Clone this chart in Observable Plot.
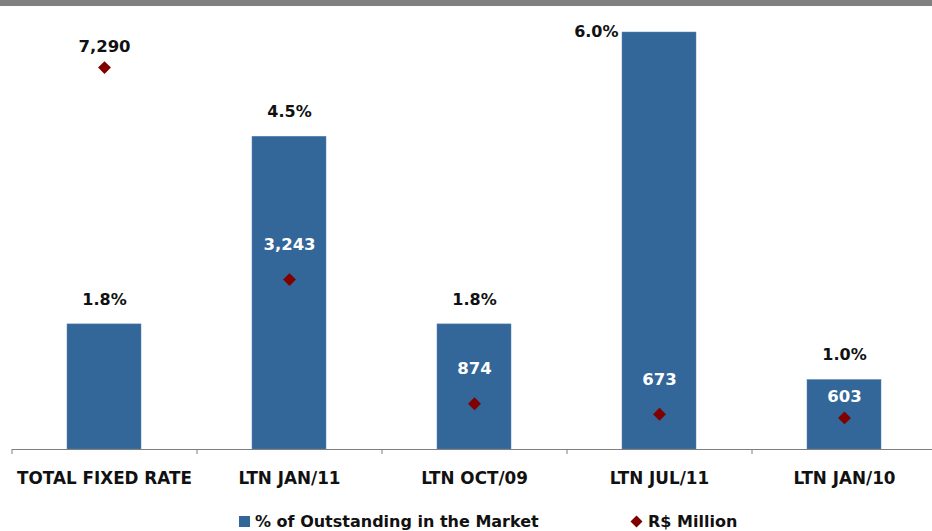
<!DOCTYPE html>
<html><head><meta charset="utf-8">
<script src="https://cdn.jsdelivr.net/npm/d3@7"></script>
<script src="https://cdn.jsdelivr.net/npm/@observablehq/plot@0.6"></script>
<style>
html,body{margin:0;padding:0;background:#fff;}
body{width:932px;height:531px;overflow:hidden;position:relative;font-family:"DejaVu Sans",sans-serif;}
#top{height:6px;background:#808080;}
#chart{width:932px;height:500px;overflow:hidden;}
#chart svg{display:block;overflow:visible;max-width:none !important;height:500px !important;}
.leg{position:absolute;top:510px;height:22px;display:flex;align-items:center;font-weight:bold;font-size:16px;color:#111;white-space:nowrap;}
.leg svg{margin-right:5px;}
</style></head>
<body>
<div id="top"></div>
<div id="chart"></div>
<div class="leg" style="left:239px"><svg width="11" height="11"><rect width="11" height="11" fill="#336699"/></svg><span>% of Outstanding in the Market</span></div>
<div class="leg" style="left:630px"><svg width="13" height="13"><path d="M6.5 0.5L12.5 6.5L6.5 12.5L0.5 6.5Z" fill="#800000"/></svg><span>R$ Million</span></div>
<script>
const categories = ["TOTAL FIXED RATE", "LTN JAN/11", "LTN OCT/09", "LTN JUL/11", "LTN JAN/10"];
const pctOutstanding = [1.8, 4.5, 1.8, 6.0, 1.0];
const rsMillion = [7290, 3243, 874, 673, 603];
const pctLabels = ["1.8%", "4.5%", "1.8%", "6.0%", "1.0%"];
const rsLabels = ["7,290", "3,243", "874", "673", "603"];
const pctAxisMax = 6.0;
const rsAxisMax = 7960;

const rows = categories.map((c, i) => ({
  cat: c,
  pct: pctOutstanding[i],
  rs: rsMillion[i],
  rsY: rsMillion[i] / rsAxisMax * pctAxisMax,
  pctLabel: pctLabels[i],
  rsLabel: rsLabels[i]
}));
const maxPct = d3.max(pctOutstanding);
const step = 185;
const font = "DejaVu Sans, sans-serif";
const nearDiamond = new Set(["TOTAL FIXED RATE", "LTN JAN/10"]);

const chart = Plot.plot({
  width: 937, height: 500,
  marginLeft: 12, marginRight: 0, marginTop: 26, marginBottom: 57,
  style: {fontFamily: font, background: "#fff", overflow: "visible"},
  x: {type: "band", domain: categories, paddingInner: 0.6, paddingOuter: 0.3, axis: null},
  y: {domain: [0, pctAxisMax], axis: null},
  marks: [
    Plot.barY(rows, {x: "cat", y: "pct", fill: "#336699", stroke: "#5b86b3", strokeWidth: 0.5}),
    Plot.ruleY([0], {stroke: "#7f7f7f", strokeWidth: 1}),
    Plot.ruleX(categories, {x: d => d, dx: -step / 2, y1: 0, y2: 0, insetBottom: -5, stroke: "#7f7f7f", strokeWidth: 1}),
    Plot.text(categories, {x: d => d, y: 0, dy: 29.5, text: d => d, fontWeight: "bold", fontSize: 16.8, fill: "#111"}),
    Plot.text(rows.filter(d => d.pct < maxPct), {x: "cat", y: "pct", text: "pctLabel", dy: -25, fontWeight: "bold", fontSize: 16, fill: "#111"}),
    Plot.text(rows.filter(d => d.pct === maxPct), {x: "cat", y: "pct", text: "pctLabel", textAnchor: "end", dx: -41, dy: -1, fontWeight: "bold", fontSize: 16, fill: "#111"}),
    Plot.dot(rows, {x: "cat", y: "rsY", symbol: "diamond2", r: 5.8, fill: "#800000", stroke: "none"}),
    Plot.text(rows.filter(d => nearDiamond.has(d.cat)), {x: "cat", y: "rsY", text: "rsLabel", dy: -21, fontWeight: "bold", fontSize: 16.5, fill: d => d.rsY > d.pct ? "#111" : "#fff"}),
    Plot.text(rows.filter(d => !nearDiamond.has(d.cat)), {x: "cat", y: "rsY", text: "rsLabel", dy: -35, fontWeight: "bold", fontSize: 16.5, fill: d => d.rsY > d.pct ? "#111" : "#fff"})
  ]
});
document.getElementById("chart").appendChild(chart);
</script>
</body></html>
